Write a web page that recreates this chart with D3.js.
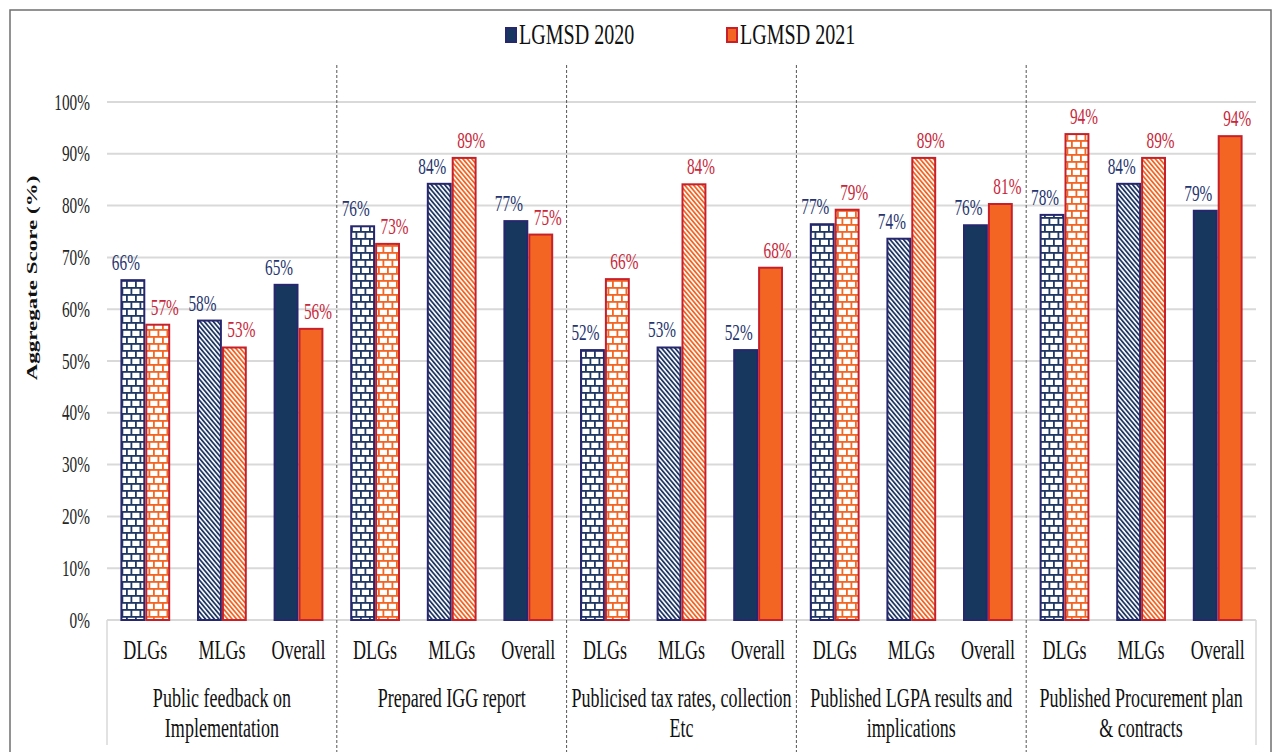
<!DOCTYPE html>
<html>
<head>
<meta charset="utf-8">
<script src="https://cdn.jsdelivr.net/npm/d3@7"></script>
<style>
  body { margin: 0; background: #fff; }
  text { font-family: "Liberation Serif", "Times New Roman", serif; }
</style>
</head>
<body>
<div id="chart"></div>
<script>
// indicator groups, each split over lines as printed under the axis
const groups = [
  ['Public feedback on', 'Implementation'],
  ['Prepared IGG report'],
  ['Publicised tax rates, collection', 'Etc'],
  ['Published LGPA results and', 'implications'],
  ['Published Procurement plan', '& contracts']
];
const subcats = ['DLGs', 'MLGs', 'Overall'];
const seriesNames = ['LGMSD 2020', 'LGMSD 2021'];

// one value per group x subcategory, in reading order
const values2020 = [65.8, 58.0, 64.9, 76.2, 84.4, 77.2, 52.3, 52.8, 52.3, 76.6, 73.8, 76.4, 78.4, 84.4, 79.2];
const values2021 = [57.2, 52.8, 56.4, 72.8, 89.4, 74.6, 66.0, 84.3, 68.2, 79.4, 89.4, 80.5, 94.0, 89.4, 93.6];
const yTicks = [0, 10, 20, 30, 40, 50, 60, 70, 80, 90, 100];

const width = 1273, height = 752;
const margin = {top: 102, bottom: 132, left: 107, right: 17};
const K = 0.68; // the picture is squeezed horizontally

const navy = '#1f3864', navyFill = '#17375e', navyEdge = '#26276e';
const orange = '#f26522', red = '#c8202a';

const svg = d3.select('#chart').append('svg')
    .attr('width', width)
    .attr('height', height);

const defs = svg.append('defs');

function brick(id, color) {
  const p = defs.append('pattern')
      .attr('id', id)
      .attr('patternUnits', 'userSpaceOnUse')
      .attr('width', 9).attr('height', 14);
  p.append('rect').attr('width', 9).attr('height', 14).attr('fill', '#fff');
  p.append('rect').attr('y', 0).attr('width', 9).attr('height', 1.8).attr('fill', color);
  p.append('rect').attr('y', 7).attr('width', 9).attr('height', 1.8).attr('fill', color);
  p.append('rect').attr('x', 0).attr('y', 0).attr('width', 1.8).attr('height', 7).attr('fill', color);
  p.append('rect').attr('x', 4.5).attr('y', 7).attr('width', 1.8).attr('height', 7).attr('fill', color);
}

function diagonal(id, color) {
  const p = defs.append('pattern')
      .attr('id', id)
      .attr('patternUnits', 'userSpaceOnUse')
      .attr('width', 3.4).attr('height', 10)
      .attr('patternTransform', 'rotate(-40)');
  p.append('rect').attr('width', 3.4).attr('height', 10).attr('fill', '#fff');
  p.append('rect').attr('width', 1.8).attr('height', 10).attr('fill', color);
}

brick('brick2020', navy);
brick('brick2021', orange);
diagonal('diag2020', navy);
diagonal('diag2021', orange);

const fills = [
  ['url(#brick2020)', 'url(#diag2020)', navyFill],
  ['url(#brick2021)', 'url(#diag2021)', orange]
];
const edges = [navyEdge, red];
const labelColors = ['#26356e', '#c8283a'];

function squeeze(sel, x, y, rot) {
  sel.attr('transform', `translate(${x},${y}) scale(${K},1)${rot ? ' rotate(-90)' : ''}`);
}

// outer frame
svg.append('rect')
    .attr('x', 10).attr('y', 10)
    .attr('width', 1261).attr('height', 760)
    .attr('fill', 'none')
    .attr('stroke', '#6f6f6f')
    .attr('stroke-width', 1.5);

const x0 = d3.scaleBand()
    .domain(d3.range(groups.length))
    .range([margin.left, width - margin.right]);

const x1 = d3.scaleBand()
    .domain(subcats)
    .range([0, x0.bandwidth()])
    .paddingInner(0.35)
    .paddingOuter(0.175);

const x2 = d3.scaleBand()
    .domain([0, 1])
    .range([0, x1.bandwidth()]);

const y = d3.scaleLinear()
    .domain([0, 100])
    .range([height - margin.bottom - 0, margin.top]);

const bottom = y(0);

// grid
svg.append('g')
  .selectAll('line')
  .data(yTicks)
  .join('line')
    .attr('x1', margin.left)
    .attr('x2', width - margin.right)
    .attr('y1', d => y(d))
    .attr('y2', d => y(d))
    .attr('stroke', '#d9d9d9')
    .attr('stroke-width', 2);

// tick labels
svg.append('g')
  .selectAll('text')
  .data(yTicks)
  .join('text')
    .call(s => s.each(function(d) { squeeze(d3.select(this), 90, y(d) + 7.5); }))
    .attr('text-anchor', 'end')
    .attr('font-size', 22.5)
    .attr('fill', '#262626')
    .text(d => d + '%');

// y title
svg.append('text')
    .call(s => squeeze(s, 37, (y(0) + y(100)) / 2 - 83, true))
    .attr('text-anchor', 'middle')
    .attr('font-size', 23)
    .attr('font-weight', 'bold')
    .attr('fill', '#111')
    .text('Aggregate Score (%)');

// axis box below the plot
const axisG = svg.append('g').attr('stroke', '#d9d9d9').attr('stroke-width', 1.5);
axisG.append('line')
    .attr('x1', margin.left).attr('x2', width - margin.right)
    .attr('y1', bottom).attr('y2', bottom);
[margin.left, width - margin.right].forEach(xx => {
  axisG.append('line')
      .attr('x1', xx).attr('x2', xx)
      .attr('y1', bottom).attr('y2', 745);
});

// dashed separators between groups
svg.append('g')
  .selectAll('line')
  .data(d3.range(1, groups.length))
  .join('line')
    .attr('x1', d => x0(d))
    .attr('x2', d => x0(d))
    .attr('y1', 65)
    .attr('y2', height)
    .attr('stroke', '#555')
    .attr('stroke-width', 1)
    .attr('stroke-dasharray', '3,2');

// bars
const cells = [];
groups.forEach((g, gi) => {
  subcats.forEach((s, si) => {
    const k = gi * subcats.length + si;
    [values2020[k], values2021[k]].forEach((v, yi) => {
      cells.push({gi, si, s, yi, v, x: x0(gi) + x1(s) + x2(yi)});
    });
  });
});

svg.append('g')
  .selectAll('rect')
  .data(cells)
  .join('rect')
    .attr('x', d => d.x + 1)
    .attr('y', d => y(d.v) + 1)
    .attr('width', x2.bandwidth() - 2)
    .attr('height', d => bottom - y(d.v) - 1)
    .attr('fill', d => fills[d.yi][d.si])
    .attr('stroke', d => edges[d.yi])
    .attr('stroke-width', 2);

// value labels
svg.append('g')
  .selectAll('text')
  .data(cells)
  .join('text')
    .each(function(d) {
      const cx = d.x + x2.bandwidth() / 2 + (d.yi === 0 ? -7 : 7);
      squeeze(d3.select(this), cx, y(d.v) - 9);
    })
    .attr('text-anchor', 'middle')
    .attr('font-size', 22.5)
    .attr('fill', d => labelColors[d.yi])
    .text(d => Math.round(d.v) + '%');

// subcategory labels
svg.append('g')
  .selectAll('text')
  .data(groups.flatMap((g, gi) => subcats.map(s => ({gi, s}))))
  .join('text')
    .each(function(d) {
      squeeze(d3.select(this), x0(d.gi) + x1(d.s) + x1.bandwidth() / 2, 659);
    })
    .attr('text-anchor', 'middle')
    .attr('font-size', 26.5)
    .attr('fill', '#111')
    .text(d => d.s);

// group labels
svg.append('g')
  .selectAll('text')
  .data(groups.flatMap((lines, gi) => lines.map((t, li) => ({gi, li, t}))))
  .join('text')
    .each(function(d) {
      squeeze(d3.select(this), x0(d.gi) + x0.bandwidth() / 2, 707 + d.li * 30);
    })
    .attr('text-anchor', 'middle')
    .attr('font-size', 26.5)
    .attr('fill', '#111')
    .text(d => d.t);

// legend
const legendX = [505, 726];
const legend = svg.append('g')
  .selectAll('g')
  .data(seriesNames)
  .join('g');

legend.append('rect')
    .attr('x', (d, i) => legendX[i] + 1)
    .attr('y', 28)
    .attr('width', 10)
    .attr('height', 14)
    .attr('fill', (d, i) => fills[i][2])
    .attr('stroke', (d, i) => edges[i])
    .attr('stroke-width', 2);

legend.append('text')
    .each(function(d, i) { squeeze(d3.select(this), legendX[i] + 14, 44); })
    .attr('font-size', 29.5)
    .attr('fill', '#111')
    .text(d => d);
</script>
</body>
</html>
